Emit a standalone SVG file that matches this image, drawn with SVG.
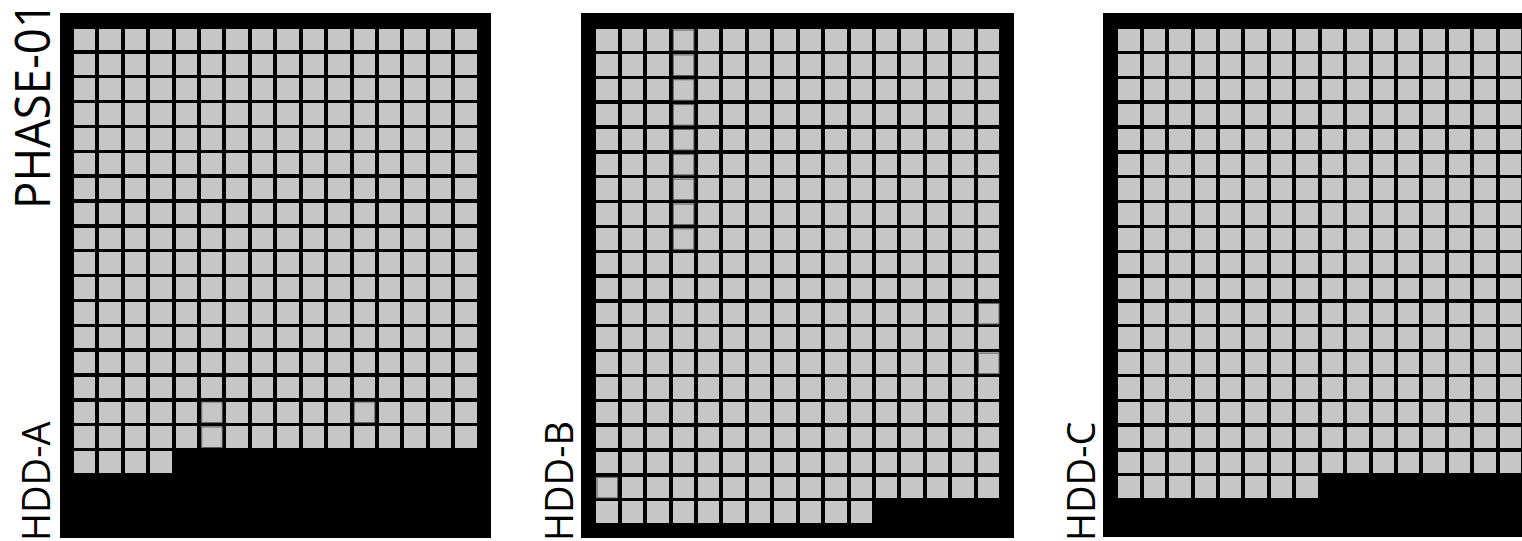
<svg xmlns="http://www.w3.org/2000/svg" width="1522" height="541" viewBox="0 0 1522 541">
<style>
.panel{fill:#000}
.lbl{font-family:"Open Sans","Noto Sans","DejaVu Sans",sans-serif;fill:#000}
.big{font-size:50px}
.small{font-size:38px}
.cells{fill:#c6c6c6;shape-rendering:crispEdges}
.vl{fill:none;stroke:#000;stroke-width:4;shape-rendering:crispEdges}
.hz{fill:none;stroke:#000;stroke-width:3.4;shape-rendering:crispEdges}
.hl{fill:none;stroke:#5a5a5a;stroke-width:1}
</style>
<g id="title">
<text class="lbl big" transform="translate(50,209) rotate(-90)" textLength="207" lengthAdjust="spacingAndGlyphs">PHASE-01</text>
</g>
<g id="hdd-a">
<rect class="panel" x="60" y="13" width="431" height="525"/>
<rect class="cells" x="73.5" y="28.5" width="403.45" height="419.6"/>
<rect class="cells" x="73.5" y="450.95" width="98.29" height="22"/>
<path class="vl" d="M97.215 28.5V473M122.645 28.5V473M148.075 28.5V473M173.505 28.5V473M198.935 28.5V473M224.365 28.5V473M249.795 28.5V473M275.225 28.5V473M300.655 28.5V473M326.085 28.5V473M351.515 28.5V473M376.945 28.5V473M402.375 28.5V473M427.805 28.5V473M453.235 28.5V473"/>
<path class="hz" d="M73.5 51.925H477M73.5 76.775H477M73.5 101.625H477M73.5 126.475H477M73.5 151.325H477M73.5 176.175H477M73.5 201.025H477M73.5 225.875H477M73.5 250.725H477M73.5 275.575H477M73.5 300.425H477M73.5 325.275H477M73.5 350.125H477M73.5 374.975H477M73.5 399.825H477M73.5 424.675H477"/>
<rect class="hl" x="201.7" y="402" width="20.6" height="20.6"/>
<rect class="hl" x="201.7" y="426.9" width="20.6" height="20.6"/>
<rect class="hl" x="354.2" y="402" width="20.6" height="20.6"/>
<text class="lbl small" transform="translate(50,541) rotate(-90)">HDD-A</text>
</g>
<g id="hdd-b">
<rect class="panel" x="581" y="13" width="433" height="525"/>
<rect class="cells" x="596" y="29" width="403.45" height="469.3"/>
<rect class="cells" x="596" y="501.15" width="276.3" height="22"/>
<path class="vl" d="M619.715 29V523.2M645.145 29V523.2M670.575 29V523.2M696.005 29V523.2M721.435 29V523.2M746.865 29V523.2M772.295 29V523.2M797.725 29V523.2M823.155 29V523.2M848.585 29V523.2M874.015 29V523.2M899.445 29V523.2M924.875 29V523.2M950.305 29V523.2M975.735 29V523.2"/>
<path class="hz" d="M596 52.425H999.5M596 77.275H999.5M596 102.125H999.5M596 126.975H999.5M596 151.825H999.5M596 176.675H999.5M596 201.525H999.5M596 226.375H999.5M596 251.225H999.5M596 276.075H999.5M596 300.925H999.5M596 325.775H999.5M596 350.625H999.5M596 375.475H999.5M596 400.325H999.5M596 425.175H999.5M596 450.025H999.5M596 474.875H999.5"/>
<rect class="hl" x="673.3" y="30" width="20.6" height="20.6"/>
<rect class="hl" x="673.3" y="54.9" width="20.6" height="20.6"/>
<rect class="hl" x="673.3" y="79.7" width="20.6" height="20.6"/>
<rect class="hl" x="673.3" y="104.6" width="20.6" height="20.6"/>
<rect class="hl" x="673.3" y="129.4" width="20.6" height="20.6"/>
<rect class="hl" x="673.3" y="154.3" width="20.6" height="20.6"/>
<rect class="hl" x="673.3" y="179.1" width="20.6" height="20.6"/>
<rect class="hl" x="673.3" y="204" width="20.6" height="20.6"/>
<rect class="hl" x="673.3" y="228.8" width="20.6" height="20.6"/>
<rect class="hl" x="978.5" y="303.4" width="20.6" height="20.6"/>
<rect class="hl" x="978.5" y="353.1" width="20.6" height="20.6"/>
<rect class="hl" x="597" y="477.3" width="20.6" height="20.6"/>
<text class="lbl small" transform="translate(573,541) rotate(-90)">HDD-B</text>
</g>
<g id="hdd-c">
<rect class="panel" x="1103" y="13" width="433" height="524"/>
<rect class="cells" x="1118" y="29" width="403.45" height="444.45"/>
<rect class="cells" x="1118" y="476.3" width="200.01" height="22"/>
<path class="vl" d="M1141.715 29V498.3M1167.145 29V498.3M1192.575 29V498.3M1218.005 29V498.3M1243.435 29V498.3M1268.865 29V498.3M1294.295 29V498.3M1319.725 29V498.3M1345.155 29V498.3M1370.585 29V498.3M1396.015 29V498.3M1421.445 29V498.3M1446.875 29V498.3M1472.305 29V498.3M1497.735 29V498.3"/>
<path class="hz" d="M1118 52.425H1522M1118 77.275H1522M1118 102.125H1522M1118 126.975H1522M1118 151.825H1522M1118 176.675H1522M1118 201.525H1522M1118 226.375H1522M1118 251.225H1522M1118 276.075H1522M1118 300.925H1522M1118 325.775H1522M1118 350.625H1522M1118 375.475H1522M1118 400.325H1522M1118 425.175H1522M1118 450.025H1522"/>
<text class="lbl small" transform="translate(1095,541) rotate(-90)">HDD-C</text>
</g>
<g id="connectors"/>
</svg>
